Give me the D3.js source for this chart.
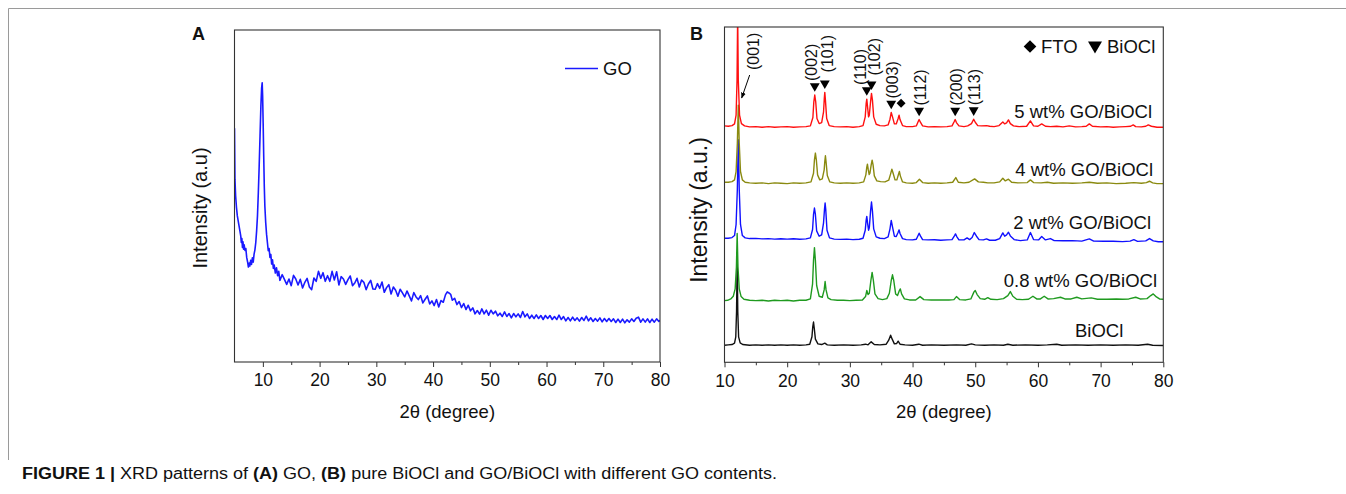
<!DOCTYPE html>
<html>
<head>
<meta charset="utf-8">
<script src="https://cdn.jsdelivr.net/npm/d3@7"></script>
<style>
  body { margin: 0; background: #fff; }
  svg text { font-family: "Liberation Sans", Arial, sans-serif; fill: #111; }
</style>
</head>
<body>
<div id="chart"></div>
<script>
// ---- panel A : GO pattern [2theta, intensity] ----
const goPattern = [
  [5.0,70.4],[5.08,55],[5.2,50],[5.35,46.5],[5.5,44],[5.65,42.5],[5.8,41],[5.95,39.5],[6.1,38],[6.2,36],
  [6.3,37.2],[6.4,34.5],[6.5,36.2],[6.6,34],[6.7,35.3],[6.85,33.6],[7.0,34.2],[7.15,31.5],[7.3,30.2],[7.45,28.6],
  [7.6,29.8],[7.7,28.9],[7.85,30.6],[8.0,29.4],[8.15,31.4],[8.3,30.1],[8.45,32.5],[8.6,33.8],[8.75,36],[8.9,39.5],
  [9.05,44],[9.2,51],[9.35,59],[9.5,68],[9.65,77],[9.78,82.5],[9.88,84.1],[9.96,80],[10.05,72],[10.15,62],
  [10.25,53],[10.35,47],[10.5,42],[10.65,38.5],[10.8,36],[10.95,33.5],[11.1,34.2],[11.25,31.5],[11.4,32.4],[11.55,29.5],
  [11.7,30.8],[11.85,28.2],[12.0,29.2],[12.2,26.8],[12.4,28.4],[12.6,26],[12.8,27.3],[13.0,24.6],
  [13.4,26.3],[13.8,24.9],[14.2,23.4],[14.6,25.0],[15.0,23.0],[15.4,26.1],[15.8,25.0],[16.2,23.2],[16.6,24.9],[17.0,22.3],
  [17.4,24.0],[17.8,25.2],[18.2,22.6],[18.6,21.8],[19.0,25.3],[19.4,24.3],[19.8,27.3],[20.2,25.2],[20.6,26.9],[21.0,24.3],
  [21.4,26.0],[21.8,24.3],[22.2,27.3],[22.6,24.7],[23.0,27.2],[23.4,23.2],[23.8,25.7],[24.2,25.0],[24.6,23.4],[25.0,24.8],
  [25.4,25.9],[25.8,23.0],[26.2,23.8],[26.6,25.2],[27.0,22.6],[27.4,24.7],[27.8,24.0],[28.2,21.8],[28.6,23.5],[29.0,24.6],
  [29.4,22.0],[29.8,21.9],[30.2,23.6],[30.6,22.2],[31.0,24.1],[31.4,21.0],[31.8,22.4],[32.2,23.3],[32.6,20.5],[33.0,22.6],
  [33.4,21.6],[33.8,19.8],[34.2,21.9],[34.6,20.8],[35.0,19.6],[35.4,21.4],[35.8,19.9],[36.2,18.4],[36.6,20.9],[37.0,19.6],
  [37.4,18.8],[37.8,20.0],[38.2,17.8],[38.6,18.9],[39.0,19.9],[39.4,17.5],[39.8,18.4],[40.2,17.0],[40.6,18.8],[41.0,16.6],
  [41.4,18.5],[41.8,18.0],[42.2,20.3],[42.5,21.1],[42.8,20.8],[43.1,20.4],[43.4,18.6],[43.8,19.2],[44.2,17.3],[44.6,18.2],
  [45.0,16.4],[45.4,17.6],[45.8,15.8],[46.2,17.1],[46.6,15.4],[47.0,16.3],[47.4,14.5],[47.8,15.5],[48.2,14.4],[48.6,16.0],
  [49.0,14.5],[49.4,15.6],[49.8,14.1],[50.2,15.6],[50.6,14.5],[51.0,15.3],[51.4,13.9],[51.8,14.7],[52.2,13.7],[52.6,15.1],
  [53.0,13.7],[53.4,14.6],[53.8,13.3],[54.2,14.6],[54.6,13.6],[55.0,14.5],[55.4,13.4],[55.8,15.2],[56.2,13.6],[56.6,14.5],
  [57.0,13.1],[57.4,14.1],[57.8,13.1],[58.2,14.2],[58.6,13.1],[59.0,14.0],[59.4,12.8],[59.8,14.0],[60.2,13.1],[60.6,14.0],
  [61.0,12.8],[61.4,13.7],[61.8,12.8],[62.2,14.1],[62.6,12.8],[63.0,13.7],[63.4,12.4],[63.8,13.4],[64.2,12.4],[64.6,13.5],
  [65.0,12.5],[65.4,13.3],[65.8,12.3],[66.2,13.4],[66.6,12.5],[67.0,13.8],[67.4,12.4],[67.8,13.3],[68.2,12.2],[68.6,13.1],
  [69.0,12.3],[69.4,13.3],[69.8,12.1],[70.2,13.1],[70.6,12.2],[71.0,13.1],[71.4,12.2],[71.8,13.0],[72.2,11.9],[72.6,12.9],
  [73.0,11.9],[73.4,12.9],[73.8,11.8],[74.2,12.7],[74.6,12.0],[75.0,13.0],[75.4,12.2],[75.8,13.2],[76.2,13.5],[76.6,12.0],
  [77.0,13.0],[77.4,12.0],[77.8,13.0],[78.2,11.9],[78.6,12.9],[79.0,12.0],[79.4,13.0],[79.8,12.2],[80.0,12.6]
];

// ---- panel B : patterns, relative to each trace's own baseline ----
const bioclPattern = [
  [10,0.0],[10.6,0.1],[11.2,0.2],[11.6,0.6],[11.8,2.5],[11.92,10],[12.02,24.8],[12.12,10],[12.25,2.5],[12.5,0.7],
  [12.9,0.2],[14,0.0],[15,0.1],[16,0.0],[17,0.1],[18,0.0],[19,0.1],[20,0.0],[21,0.1],[22,0.0],[23,0.1],[23.6,0.3],
  [23.95,2.5],[24.08,5.5],[24.2,6.9],[24.32,5.0],[24.5,1.8],[24.9,0.4],[25.5,0.2],[26.0,0.6],[26.4,0.1],[27.5,0.0],
  [29,0.1],[30.5,0.0],[31.8,0.1],[32.5,0.3],[32.9,0.1],[33.4,1.0],[33.9,0.2],[34.8,0.1],[35.8,0.3],[36.2,1.5],[36.5,3.0],
  [36.75,1.8],[37.1,0.4],[37.45,0.5],[37.7,1.2],[38.0,0.3],[38.8,0.1],[40,0.0],[41,0.3],[41.6,0.0],[43,0.1],[45,0.0],
  [47,0.1],[48.5,0.0],[49.4,0.4],[50,0.1],[51.5,0.0],[53,0.1],[54.5,0.0],[55.2,0.3],[56,0.0],[58,0.1],[60,0.0],
  [61.5,0.1],[63,0.3],[63.8,0.0],[66,0.1],[68,0.0],[70,0.1],[72,0.0],[74,0.1],[76,0.0],[77.5,0.3],[78.3,0.0],[80,-0.1]
];
const go08Pattern = [
  [10,0.0],[10.5,0.1],[11.0,0.5],[11.4,1.3],[11.7,3.5],[11.9,10],[12.02,20.0],[12.15,10],[12.35,3.5],[12.65,1.2],
  [13.1,0.4],[14,0.1],[15,0.0],[16,0.1],[17,-0.1],[18,0.1],[19,0.0],[20,0.1],[21,-0.1],[22,0.1],[23,0.1],[23.7,0.5],
  [24.05,5.0],[24.2,12.0],[24.35,15.8],[24.5,12.0],[24.7,4.5],[25.1,1.3],[25.6,1.0],[25.9,3.2],[26.05,5.7],[26.2,3.2],
  [26.5,0.8],[27,0.3],[28,0.1],[29,0.1],[30,0.0],[31,0.1],[32,0.2],[32.5,1.2],[32.7,3.0],[32.9,1.8],[33.1,2.2],
  [33.35,6.0],[33.55,8.4],[33.75,6.0],[34.0,2.0],[34.5,0.6],[35.2,0.3],[35.9,0.6],[36.3,2.2],[36.6,6.0],[36.8,7.7],
  [37.0,6.0],[37.3,2.0],[37.6,1.5],[37.9,3.0],[38.05,3.5],[38.25,2.0],[38.7,0.5],[39.5,0.2],[40.5,0.2],[41.2,1.2],
  [41.8,0.3],[43,0.2],[44.5,0.2],[45.8,0.2],[46.6,0.3],[47.0,1.2],[47.5,0.3],[48.5,0.2],[49.3,0.5],[49.8,2.6],[50.0,3.0],
  [50.3,1.8],[50.8,0.6],[51.5,0.4],[52.0,0.9],[52.5,0.4],[53.5,0.3],[54.5,0.6],[55.2,1.5],[55.6,2.7],[56.0,1.3],
  [56.6,0.4],[57.5,0.3],[58.5,0.4],[59.2,1.3],[59.8,0.5],[60.4,0.5],[61.0,1.3],[61.6,0.5],[62.5,0.6],[63.6,1.0],
  [64.3,0.5],[65.3,0.5],[66.2,1.0],[67,0.5],[68.5,0.8],[69.5,0.4],[71,0.4],[72.5,0.5],[73.5,0.4],[74.5,0.5],[75.6,1.0],
  [76.3,0.5],[77.4,0.6],[78.0,1.5],[78.4,2.0],[78.9,1.1],[79.4,0.5],[80,0.4]
];
const go2Pattern = [
  [10,0.4],[10.6,0.4],[11.2,0.6],[11.6,1.2],[11.85,4.5],[12.05,15],[12.2,29.8],[12.35,15],[12.55,4.5],[12.85,1.2],
  [13.3,0.5],[14,0.3],[15,0.35],[16,0.2],[17,0.3],[18,0.15],[19,0.25],[20,0.15],[21,0.25],[22,0.1],[23,0.2],[23.7,0.5],
  [24.05,3.0],[24.2,7.5],[24.35,9.4],[24.5,7.5],[24.7,2.6],[25.1,1.0],[25.5,1.4],[25.8,5.0],[25.95,9.0],[26.05,10.9],
  [26.15,9.0],[26.35,2.8],[26.75,0.5],[27.5,0.15],[28.5,0.05],[29.5,0.15],[30.5,0],[31.5,0.1],[32.1,0.4],[32.45,2.8],
  [32.6,5.8],[32.7,6.9],[32.82,5.0],[32.98,2.8],[33.1,3.5],[33.3,8.5],[33.45,11.2],[33.6,8.5],[33.8,3.2],[34.2,0.8],
  [34.8,0.4],[35.5,0.3],[36.1,0.8],[36.4,3.2],[36.6,5.7],[36.8,3.8],[37.1,1.0],[37.4,0.9],[37.7,2.2],[37.85,2.9],
  [38.0,1.8],[38.4,0.3],[39,0],[40,-0.1],[40.6,0.1],[40.9,1.3],[41.05,1.9],[41.25,1.1],[41.6,0.0],[42.5,-0.1],
  [43.5,-0.05],[44.5,-0.2],[45.5,-0.1],[46.3,0.0],[46.7,1.2],[46.85,1.7],[47.05,0.9],[47.4,-0.1],[48.2,-0.1],[48.7,0.5],
  [49.1,0.0],[49.5,0.6],[49.85,2.1],[50.2,1.0],[50.6,0.0],[51.3,-0.1],[51.8,0.2],[52.3,-0.2],[53.2,-0.2],[53.9,0.3],
  [54.4,2.0],[54.7,1.0],[55.0,1.4],[55.3,2.2],[55.6,1.1],[56.2,0.0],[57.2,-0.3],[58.3,-0.1],[58.8,2.1],[59.3,0.0],
  [60.1,-0.1],[60.6,0.9],[61.2,-0.1],[62,0.3],[62.6,-0.3],[64,-0.35],[65.5,-0.3],[67,-0.45],[68.2,0.2],[68.9,-0.45],
  [70.5,-0.5],[72,-0.5],[73.5,-0.6],[74.7,-0.45],[75.3,0.0],[75.9,-0.55],[77.2,-0.4],[77.8,0.3],[78.4,-0.4],[79.2,-0.65],[80,-0.65]
];
const go4Pattern = [
  [10,0.3],[10.6,0.3],[11.2,0.5],[11.6,1.0],[11.85,3.5],[12.05,12],[12.2,23.3],[12.35,12],[12.55,3.5],[12.85,1.0],
  [13.3,0.3],[14,0.1],[15,0],[16,0.1],[17,-0.1],[18,0.1],[19,0],[20,-0.1],[21,0.1],[22,0],[23,0.1],[23.8,0.4],
  [24.2,3.0],[24.35,7.0],[24.5,9.0],[24.65,7.0],[24.85,2.5],[25.2,1.0],[25.6,1.3],[25.9,4.0],[26.0,6.5],[26.1,8.2],
  [26.2,6.5],[26.4,2.3],[26.8,0.4],[27.5,0.1],[28.5,0],[29.5,0.1],[30.5,0],[31.5,0.1],[32.2,0.4],[32.55,2.5],[32.7,4.8],
  [32.8,5.7],[32.92,4.2],[33.08,2.6],[33.2,3.0],[33.4,5.5],[33.55,6.9],[33.7,5.5],[33.9,2.2],[34.3,0.7],[34.9,0.5],
  [35.6,0.4],[36.2,0.9],[36.5,2.8],[36.7,4.2],[36.9,3.0],[37.2,1.0],[37.5,1.0],[37.75,2.6],[37.9,3.5],[38.05,2.2],
  [38.4,0.4],[39,0.1],[40,0],[40.6,0.2],[41.1,1.2],[41.6,0.2],[42.5,0],[43.5,0.1],[44.5,0],[45.5,0.1],[46.4,0.3],
  [46.9,1.7],[47.3,0.3],[48.2,0.1],[49,0.3],[49.9,1.3],[50.5,0.4],[51.3,0.3],[52,0.1],[53,0.1],[53.9,0.4],[54.4,1.5],
  [54.8,0.7],[55.3,1.2],[55.8,0.3],[56.8,0.1],[58.3,0.2],[58.8,1.0],[59.3,0.2],[60.5,0.1],[61.5,0.3],[62.5,0],[64,0.1],
  [65.5,0.0],[67,0.1],[68.2,0.3],[69.5,0.0],[71,0.1],[72.5,-0.1],[74,0.0],[75.3,0.2],[76.5,0],[77.3,0.2],[77.8,0.6],
  [78.3,0.1],[79,-0.1],[80,-0.1]
];
const go5Pattern = [
  [10,0.3],[10.6,0.2],[11.2,0.4],[11.6,0.9],[11.85,3.5],[12.0,14],[12.1,34],[12.2,14],[12.4,3.5],[12.7,1.0],[13.2,0.3],
  [14,0.0],[15,0.1],[16,-0.1],[17,0.1],[18,-0.1],[19,0],[20,0.1],[21,-0.1],[22,0],[23,0.1],[23.7,0.3],[24.1,2.8],
  [24.25,7.5],[24.4,9.5],[24.55,7.5],[24.75,2.5],[25.1,1.0],[25.5,1.3],[25.8,4.5],[25.92,8.5],[26.0,10.3],[26.1,8.0],
  [26.3,2.5],[26.7,0.4],[27.5,0.1],[28.5,0],[29.5,0.1],[30.5,-0.1],[31.5,0.1],[32.1,0.4],[32.45,3.0],[32.6,7.0],
  [32.7,8.3],[32.82,6.0],[32.98,3.0],[33.1,3.5],[33.3,7.5],[33.45,10.0],[33.6,8.0],[33.8,3.0],[34.2,0.8],[34.8,0.4],
  [35.5,0.3],[36.1,0.6],[36.4,2.3],[36.6,4.3],[36.8,3.0],[37.1,0.9],[37.4,0.9],[37.7,2.5],[37.85,3.5],[38.0,2.2],
  [38.4,0.4],[39,0.1],[40,0.1],[40.6,0.3],[40.9,1.6],[41.05,2.2],[41.25,1.4],[41.6,0.3],[42.5,0],[43.5,0.1],[44.5,0],
  [45.5,0.1],[46.3,0.3],[46.65,1.6],[46.8,2.2],[47.0,1.3],[47.4,0.3],[48.2,0.1],[48.8,0.3],[49.4,1.0],[49.75,2.3],
  [50.0,1.4],[50.4,0.4],[51,0.3],[51.8,0.4],[52.3,0.2],[53,0.1],[53.8,0.4],[54.4,1.5],[54.7,0.9],[55.0,1.2],[55.3,2.1],
  [55.6,1.0],[56.1,0.3],[57,0.1],[58.2,0.2],[58.8,1.8],[59.3,0.3],[60,0.2],[60.6,0.9],[61.2,0.2],[62,0.1],[63,0.2],
  [64,0.0],[65,0.3],[66,0.0],[67,0.1],[67.7,0.2],[68.2,0.9],[68.7,0.2],[70,0.0],[71,0.1],[72,-0.1],[73,0.0],[74,0.1],
  [74.8,0.2],[75.2,0.6],[75.6,0.1],[76.5,0.0],[77.2,0.2],[77.6,0.6],[78.1,0.2],[79,-0.1],[80,-0.1]
];

const sampleNames = ["BiOCl", "0.8 wt% GO/BiOCl", "2 wt% GO/BiOCl", "4 wt% GO/BiOCl", "5 wt% GO/BiOCl"];
const samplePatterns = [bioclPattern, go08Pattern, go2Pattern, go4Pattern, go5Pattern];
const sampleOffsets = [5.1, 18.4, 36.6, 53.4, 70.2];
const sampleColors = ["#111111", "#1f9a1f", "#1010ff", "#8a8a10", "#ff1010"];

const hklLabels = ["(002)", "(101)", "(110)", "(102)", "(003)", "(112)", "(200)", "(113)"];
const hklAngles = [24.4, 26.0, 32.7, 33.45, 36.6, 41.05, 46.8, 49.75];
const ftoAngles = [37.85];
const xTicks = [10, 20, 30, 40, 50, 60, 70, 80];
const xMinorTicks = [15, 25, 35, 45, 55, 65, 75];

// ---- layout ----
const W = 1346, H = 494;
const svg = d3.select("#chart").append("svg")
    .attr("width", W).attr("height", H);
svg.append("rect").attr("width", W).attr("height", H).attr("fill", "#fff");

// outer figure box (top + left edges only)
svg.append("path").attr("d", "M8.5,460 V8.5 H1346")
    .attr("fill", "none").attr("stroke", "#9a9a9a").attr("stroke-width", 1);

function frame(g, x, y) {
  const [x0, x1] = x.range(), [y0, y1] = y.range();
  g.append("g").attr("transform", "translate(0," + y0 + ")")
      .call(d3.axisBottom(x).tickValues(xTicks).tickSize(5).tickPadding(7).tickFormat(d3.format("d")))
      .call(a => a.select(".domain").remove())
      .call(a => a.selectAll("line").attr("stroke", "#333"))
      .call(a => a.selectAll("text").attr("font-size", 17.5).attr("fill", "#111")
          .style("font-family", '"Liberation Sans", Arial, sans-serif'));
  g.append("g").attr("transform", "translate(0," + y0 + ")")
      .call(d3.axisBottom(x).tickValues(xMinorTicks).tickSize(3).tickFormat(""))
      .call(a => a.select(".domain").remove())
      .call(a => a.selectAll("line").attr("stroke", "#333"));
  g.append("rect").attr("x", x0).attr("y", y1).attr("width", x1 - x0).attr("height", y0 - y1)
      .attr("fill", "none").attr("stroke", "#333").attr("stroke-width", 1.1);
}

// ================= panel A =================
const xA = d3.scaleLinear().domain([5, 80]).range([234.5, 660]);
const yA = d3.scaleLinear().domain([0, 100]).range([362, 30]);
const gA = svg.append("g");

gA.append("clipPath").attr("id", "clipA").append("rect")
    .attr("x", 234.5).attr("y", 30).attr("width", 660 - 234.5).attr("height", 332);

gA.append("path").datum(goPattern)
    .attr("clip-path", "url(#clipA)")
    .attr("fill", "none").attr("stroke", "#1a1aff").attr("stroke-width", 1.6)
    .attr("stroke-linejoin", "round")
    .attr("d", d3.line().x(d => xA(d[0])).y(d => yA(d[1])));

frame(gA, xA, yA);

gA.append("line").attr("x1", 565).attr("x2", 598).attr("y1", 68.5).attr("y2", 68.5)
    .attr("stroke", "#1a1aff").attr("stroke-width", 1.6);
gA.append("text").attr("x", 603).attr("y", 68.5).attr("dy", "0.35em")
    .attr("font-size", 18.5).text("GO");

gA.append("text").attr("x", 192).attr("y", 39.5).attr("font-size", 18)
    .attr("font-weight", "bold").text("A");
gA.append("text").attr("transform", "translate(207,208) rotate(-90)")
    .attr("text-anchor", "middle").attr("font-size", 20).text("Intensity (a.u)");
gA.append("text").attr("x", (234.5 + 660) / 2).attr("y", 412).attr("dy", "0.35em")
    .attr("text-anchor", "middle").attr("font-size", 18.5).text("2\u03b8 (degree)");

// ================= panel B =================
const xB = d3.scaleLinear().domain([10, 80]).range([724.5, 1163.3]);
const yB = d3.scaleLinear().domain([0, 100]).range([362.3, 27]);
const gB = svg.append("g");

gB.append("clipPath").attr("id", "clipB").append("rect")
    .attr("x", 724.5).attr("y", 27).attr("width", 1163.3 - 724.5).attr("height", 335.3);

samplePatterns.forEach((pattern, i) => {
  const off = sampleOffsets[i];
  gB.append("path").datum(pattern)
      .attr("clip-path", "url(#clipB)")
      .attr("fill", "none").attr("stroke", sampleColors[i]).attr("stroke-width", 1.4)
      .attr("stroke-linejoin", "round")
      .attr("d", d3.line().x(d => xB(d[0])).y(d => yB(d[1] + off)));
});

frame(gB, xB, yB);

// trace labels (right side)
const labelX = [1075, 1157, 1151, 1153, 1152];
const labelAnchor = ["start", "end", "end", "end", "end"];
const labelLift = [14.5, 20.5, 17, 14, 15.5];
sampleNames.forEach((name, i) => {
  gB.append("text")
      .attr("x", labelX[i]).attr("y", yB(sampleOffsets[i]) - labelLift[i]).attr("dy", "0.35em")
      .attr("text-anchor", labelAnchor[i]).attr("font-size", 18.5).text(name);
});

// peak markers, placed above the 5 wt% trace
const top5 = p => d3.max(go5Pattern.filter(d => Math.abs(d[0] - p) < 0.25), d => d[1]) + sampleOffsets[4];
const tri = d3.symbol().type(d3.symbolTriangle).size(42);
const dia = d3.symbol().type(d3.symbolSquare).size(40);
const hklDx = [-3, 3, -6, 3, 1, 1, 1, 1];
const hklLift = [0, 6, 0, 4, 0, 0, 0, 0];

hklAngles.forEach((p, i) => {
  const cy = yB(top5(p)) - 9;
  gB.append("path").attr("d", tri())
      .attr("transform", "translate(" + xB(p) + "," + cy + ") rotate(180)").attr("fill", "#000");
  gB.append("text")
      .attr("transform", "translate(" + (xB(p) + hklDx[i]) + "," + (cy - 5 - hklLift[i]) + ") rotate(-90)")
      .attr("dy", "0.35em").attr("font-size", 16).text(hklLabels[i]);
});
ftoAngles.forEach(p => {
  const cy = yB(top5(p)) - 12;
  gB.append("path").attr("d", dia())
      .attr("transform", "translate(" + (xB(p) + 2) + "," + cy + ") rotate(45)").attr("fill", "#000");
});

// (001) label with arrow
const p001 = xB(12.1);
gB.append("defs").append("marker").attr("id", "arrowhead")
    .attr("viewBox", "0 0 10 10").attr("refX", 9).attr("refY", 5)
    .attr("markerWidth", 6).attr("markerHeight", 6).attr("orient", "auto")
    .append("path").attr("d", "M0,1 L10,5 L0,9 Z").attr("fill", "#000");
gB.append("line").attr("x1", p001 + 12).attr("y1", 75).attr("x2", p001 + 4).attr("y2", 98)
    .attr("stroke", "#000").attr("stroke-width", 1).attr("marker-end", "url(#arrowhead)");
gB.append("text").attr("transform", "translate(" + (p001 + 16) + ",70) rotate(-90)")
    .attr("dy", "0.35em").attr("font-size", 16).text("(001)");

// legend
const lg = gB.append("g").attr("transform", "translate(0,46.5)");
lg.append("path").attr("d", d3.symbol().type(d3.symbolSquare).size(80)())
    .attr("transform", "translate(1030,0) rotate(45)").attr("fill", "#000");
lg.append("text").attr("x", 1041).attr("dy", "0.35em").attr("font-size", 18.5).text("FTO");
lg.append("path").attr("d", d3.symbol().type(d3.symbolTriangle).size(85)())
    .attr("transform", "translate(1095,-1) rotate(180)").attr("fill", "#000");
lg.append("text").attr("x", 1107).attr("dy", "0.35em").attr("font-size", 18.5).text("BiOCl");

gB.append("text").attr("x", 690).attr("y", 39.5).attr("font-size", 18)
    .attr("font-weight", "bold").text("B");
gB.append("text").attr("transform", "translate(707,210) rotate(-90)")
    .attr("text-anchor", "middle").attr("font-size", 23).text("Intensity (a.u.)");
gB.append("text").attr("x", (724.5 + 1163.3) / 2).attr("y", 412).attr("dy", "0.35em")
    .attr("text-anchor", "middle").attr("font-size", 18.5).text("2\u03b8 (degree)");

// ---- caption ----
const cap = svg.append("text").attr("x", 22).attr("y", 479)
    .attr("font-size", 16).attr("textLength", 755).attr("lengthAdjust", "spacingAndGlyphs")
    .style("font-family", '"Liberation Sans Narrow", "Liberation Sans", Arial, sans-serif');
const capParts = [["FIGURE 1 |", true], [" XRD patterns of ", false], ["(A)", true], [" GO, ", false],
  ["(B)", true], [" pure BiOCl and GO/BiOCl with different GO contents.", false]];
capParts.forEach(([t, b]) => cap.append("tspan").attr("font-weight", b ? "bold" : "normal").text(t));
</script>
</body>
</html>
